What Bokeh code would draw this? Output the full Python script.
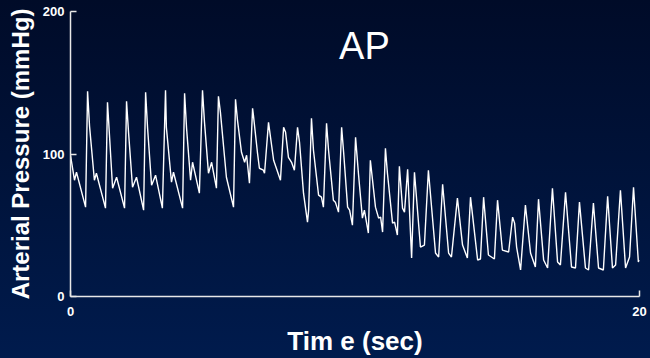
from bokeh.plotting import figure
from bokeh.models import Range1d, FixedTicker, Label
from bokeh.embed import file_html
from bokeh.resources import INLINE

# Arterial pressure trace: vertices (time in s, pressure in mmHg)
time_s = [
    0.00, 0.14, 0.21, 0.53, 0.60, 0.67, 0.84, 0.91, 1.23, 1.30,
    1.37, 1.48, 1.62, 1.90, 1.97, 2.04, 2.18, 2.32, 2.57, 2.64,
    2.71, 2.85, 2.99, 3.23, 3.34, 3.37, 3.55, 3.62, 3.94, 4.01,
    4.08, 4.22, 4.29, 4.53, 4.64, 4.71, 4.85, 4.96, 5.13, 5.20,
    5.27, 5.48, 5.73, 5.80, 5.87, 6.01, 6.12, 6.19, 6.29, 6.40,
    6.43, 6.57, 6.64, 6.78, 6.82, 6.96, 7.14, 7.38, 7.49, 7.56,
    7.66, 7.77, 7.87, 7.98, 8.05, 8.19, 8.33, 8.37, 8.47, 8.54,
    8.72, 8.82, 8.89, 9.00, 9.07, 9.24, 9.31, 9.42, 9.53, 9.60,
    9.74, 9.81, 9.91, 10.02, 10.12, 10.26, 10.33, 10.47, 10.54, 10.72,
    10.83, 10.90, 10.97, 11.07, 11.14, 11.32, 11.39, 11.49, 11.56, 11.67,
    11.74, 11.85, 11.99, 12.09, 12.30, 12.44, 12.58, 12.83, 12.94, 13.08,
    13.29, 13.39, 13.60, 13.78, 13.95, 14.06, 14.31, 14.41, 14.52, 14.69,
    14.90, 15.01, 15.18, 15.40, 15.54, 15.61, 15.68, 15.82, 15.99, 16.17,
    16.34, 16.45, 16.63, 16.77, 16.94, 17.12, 17.22, 17.40, 17.61, 17.75,
    17.89, 18.10, 18.21, 18.38, 18.56, 18.73, 18.88, 19.05, 19.16, 19.33,
    19.51, 19.65, 19.79, 19.96, 20.00,
]
pressure_mmhg = [
    99.1, 81.6, 87.2, 62.7, 144.0, 119.4, 81.6, 86.5, 62.0, 136.3,
    113.1, 76.0, 83.7, 62.0, 137.0, 115.2, 76.7, 83.7, 60.6, 143.3,
    118.0, 78.1, 85.1, 62.0, 144.7, 118.7, 80.2, 87.2, 62.0, 142.6,
    118.0, 81.6, 94.2, 72.5, 144.7, 122.2, 86.5, 94.2, 76.0, 140.5,
    129.2, 83.7, 62.7, 138.4, 123.6, 101.2, 94.2, 99.1, 79.5, 132.0,
    127.1, 101.2, 90.0, 88.6, 86.5, 122.2, 95.6, 81.6, 118.7, 115.2,
    97.7, 94.2, 88.6, 118.7, 108.2, 72.5, 52.2, 60.6, 125.0, 102.6,
    71.1, 69.7, 62.7, 121.5, 102.6, 67.6, 66.2, 59.2, 118.7, 101.2,
    62.7, 60.6, 50.1, 111.7, 86.5, 55.0, 60.6, 44.5, 95.6, 62.7,
    55.0, 55.7, 45.2, 104.0, 86.5, 51.5, 52.2, 43.1, 91.4, 62.0,
    59.2, 89.3, 27.0, 87.2, 34.7, 36.1, 88.6, 30.5, 27.7, 78.8,
    30.5, 27.7, 69.0, 36.1, 27.0, 69.7, 25.6, 26.3, 69.7, 29.1,
    26.3, 67.6, 32.6, 31.2, 55.7, 51.5, 34.7, 18.6, 64.1, 30.5,
    20.7, 68.3, 25.6, 20.0, 76.0, 24.2, 22.1, 73.2, 20.7, 20.0,
    66.2, 20.0, 18.6, 65.5, 20.0, 18.6, 70.4, 20.0, 22.1, 74.6,
    20.0, 27.7, 76.7, 24.2, 25.6,
]

x_ticks = [0, 20]
y_ticks = [0, 100, 200]

FONT = "Liberation Sans"
WHITE = "#ffffff"

p = figure(
    width=650, height=358,
    x_range=Range1d(0, 20), y_range=Range1d(0, 200),
    output_backend="svg", toolbar_location=None,
    min_border_left=70, min_border_right=11,
    min_border_top=11, min_border_bottom=62,
)

# navy gradient behind a transparent canvas
p.background_fill_alpha = 0
p.border_fill_alpha = 0
p.outline_line_color = None
p.styles = {"background": "linear-gradient(to bottom, #000b28, #001b4d)"}
p.xgrid.visible = False
p.ygrid.visible = False

p.line(time_s, pressure_mmhg, line_color=WHITE, line_width=1.4)

for ax in (p.xaxis[0], p.yaxis[0]):
    ax.axis_line_color = "#e8e8e8"
    ax.axis_line_width = 1.5
    ax.major_tick_line_color = "#e8e8e8"
    ax.major_tick_line_width = 1.5
    ax.major_tick_in = 6
    ax.major_tick_out = 0
    ax.minor_tick_line_color = None
    ax.major_label_text_color = WHITE
    ax.major_label_text_font = FONT
    ax.major_label_text_font_style = "bold"
    ax.major_label_text_font_size = "13px"
    ax.axis_label_text_color = WHITE
    ax.axis_label_text_font = FONT
    ax.axis_label_text_font_style = "bold"

p.xaxis.ticker = FixedTicker(ticks=x_ticks)
p.yaxis.ticker = FixedTicker(ticks=y_ticks)

p.xaxis.axis_label = "Tim e (sec)"
p.xaxis.axis_label_text_font_size = "26px"
p.xaxis.major_label_standoff = 10
p.xaxis.axis_label_standoff = 7

p.yaxis.axis_label = "Arterial Pressure (mmHg)"
p.yaxis.axis_label_text_font_size = "24px"
p.yaxis.major_label_standoff = 6
p.yaxis.axis_label_standoff = 6

p.add_layout(Label(
    x=10.33, y=176, text="AP",
    text_color=WHITE, text_font=FONT, text_font_size="38px",
    text_align="center", text_baseline="middle",
))

open("out.html", "w").write(file_html(p, INLINE))
